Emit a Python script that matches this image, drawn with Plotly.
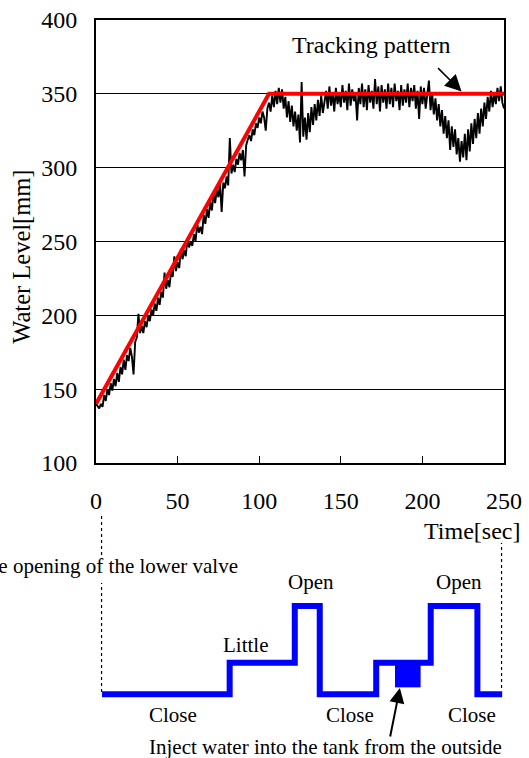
import plotly.graph_objects as go

# ---------------- data ----------------
time_sec = list(range(0, 251))
water_level = [
    140, 138, 137, 140, 138, 146, 142, 150, 146, 154,
    149, 157, 152, 161, 155, 165, 160, 170, 163, 173,
    169, 178, 172, 160, 182, 185, 201, 188, 193, 188,
    196, 192, 200, 196, 204, 200, 208, 203, 212, 207,
    216, 212, 229, 218, 224, 219, 230, 226, 240, 230,
    236, 232, 245, 238, 244, 240, 252, 246, 250, 247,
    255, 250, 262, 256, 260, 255, 268, 262, 272, 266,
    277, 271, 282, 276, 285, 280, 289, 270, 290, 286,
    294, 288, 320, 296, 302, 297, 306, 302, 310, 305,
    312, 294, 315, 319, 322, 318, 326, 322, 330, 327,
    334, 330, 338, 334, 325, 340, 344, 338, 349, 341,
    352, 343, 354, 344, 353, 340, 348, 334, 345, 331,
    342, 328, 338, 325, 336, 317, 358, 321, 334, 319,
    337, 324, 341, 329, 343, 332, 346, 335, 349, 337,
    344, 352, 340, 355, 342, 351, 338, 354, 343, 350,
    341, 356, 344, 352, 339, 357, 342, 353, 345, 350,
    332, 354, 343, 357, 341, 353, 339, 356, 344, 352,
    340, 360, 343, 355, 338, 356, 344, 353, 340, 357,
    343, 354, 341, 357, 345, 352, 339, 356, 342, 353,
    344, 357, 341, 354, 345, 356, 340, 352, 333, 355,
    343, 354, 340, 352, 359, 339, 350, 336, 347, 332,
    343, 328, 339, 323, 335, 320, 332, 312, 328, 314,
    326, 309, 320, 304, 318, 307, 323, 305, 326, 311,
    330, 316, 333, 320, 337, 323, 340, 328, 344, 333,
    348, 338, 352, 341, 350, 343, 354, 345, 355, 344,
    340,
]
pattern_time = [0, 106, 250]
pattern_level = [140, 350, 350]

y_ticks = [100, 150, 200, 250, 300, 350, 400]
x_ticks = [0, 50, 100, 150, 200, 250]

# valve schematic (Close = 0, Little = 1, Open = 2.8)
valve_time = [3.7, 81.9, 81.9, 121.8, 121.8, 137.1, 137.1, 171.7, 171.7,
              205.1, 205.1, 233.7, 233.7, 248.9]
valve_level = [0, 0, 1, 1, 2.8, 2.8, 0, 0, 1, 1, 2.8, 2.8, 0, 0]
inject_time = [183.2, 198.9]
inject_level = [0.22, 0.93]

FONT = "Liberation Serif"
TF = 24      # main chart text size
LF = 21      # schematic text size

fig = go.Figure()
fig.add_trace(go.Scatter(x=time_sec, y=water_level, mode="lines",
                         line=dict(color="black", width=1.9),
                         xaxis="x", yaxis="y", hoverinfo="skip"))
fig.add_trace(go.Scatter(x=pattern_time, y=pattern_level, mode="lines",
                         line=dict(color="#ff0000", width=4),
                         xaxis="x", yaxis="y"))
fig.add_trace(go.Scatter(x=valve_time, y=valve_level, mode="lines",
                         line=dict(color="#0000ff", width=6),
                         xaxis="x2", yaxis="y2"))
fig.add_trace(go.Scatter(
    x=[inject_time[0], inject_time[1], inject_time[1], inject_time[0], inject_time[0]],
    y=[inject_level[0], inject_level[0], inject_level[1], inject_level[1], inject_level[0]],
    mode="lines", fill="toself", fillcolor="#0000ff",
    line=dict(color="#0000ff", width=0), xaxis="x2", yaxis="y2"))

fig.update_layout(
    width=529, height=758,
    margin=dict(l=96, r=25, t=20, b=18),
    paper_bgcolor="white", plot_bgcolor="white",
    showlegend=False,
    font=dict(family=FONT, color="black", size=TF),
    xaxis=dict(domain=[0, 1], range=[0, 250], tickvals=x_ticks,
               ticks="inside", ticklen=7, tickwidth=1, tickcolor="black",
               showline=True, linecolor="black", linewidth=2, mirror=True,
               showgrid=False, zeroline=False, ticklabelstandoff=15,
               tickfont=dict(family=FONT, size=TF, color="black"),
               automargin=False, anchor="y"),
    yaxis=dict(domain=[(740 - 463) / 720, 1], range=[100, 400], tickvals=y_ticks,
               ticks="inside", ticklen=4, tickcolor="black",
               showline=True, linecolor="black", linewidth=2, mirror=True,
               showgrid=True, gridcolor="black", gridwidth=1, zeroline=False,
               ticklabelstandoff=12,
               tickfont=dict(family=FONT, size=TF, color="black"),
               automargin=False, anchor="x"),
    xaxis2=dict(domain=[0, 1], range=[0, 250], visible=False, anchor="y2"),
    yaxis2=dict(domain=[0, (740 - 505) / 720], range=[-1.451, 6.01],
                visible=False, anchor="x2"),
)

ann = []
ann.append(dict(text="Water Level[mm]", xref="paper", yref="paper",
                x=(22 - 96) / 408, y=(740 - 256.7) / 720, textangle=-90,
                showarrow=False, font=dict(size=24.5), xanchor="center", yanchor="middle"))
ann.append(dict(text="Time[sec]", xref="x", yref="paper", x=230.6,
                y=(740 - 530.5) / 720, showarrow=False, font=dict(size=TF),
                xanchor="center", yanchor="middle"))
ann.append(dict(text="Tracking pattern", xref="x", yref="y", x=168.5, y=382.8,
                showarrow=False, font=dict(size=TF), xanchor="center", yanchor="middle"))
ann.append(dict(text="", xref="x", yref="y", x=224, y=351.5, ax=-25, ay=-25,
                showarrow=True, arrowhead=2, arrowsize=2.2, arrowwidth=1.5,
                arrowcolor="black"))
# lower schematic labels
ann.append(dict(text="The opening of the lower valve", xref="x2", yref="y2",
                x=88.3, y=4.08, xanchor="right", yanchor="middle",
                showarrow=False, font=dict(size=LF)))
ann.append(dict(text="Little", xref="x2", yref="y2", x=92.2, y=1.55,
                showarrow=False, font=dict(size=LF)))
for xo in (131.7, 222.4):
    ann.append(dict(text="Open", xref="x2", yref="y2", x=xo, y=3.57,
                    showarrow=False, font=dict(size=LF)))
for xc in (47.1, 155.4, 230.3):
    ann.append(dict(text="Close", xref="x2", yref="y2", x=xc, y=-0.66,
                    showarrow=False, font=dict(size=LF)))
ann.append(dict(text="Inject water into the tank from the outside", xref="x2", yref="paper",
                x=140.5, y=(740 - 746.5) / 720, showarrow=False, font=dict(size=LF),
                yanchor="middle"))
ann.append(dict(text="", xref="x2", yref="y2", x=186.2, y=0.2, ax=-10, ay=50,
                showarrow=True, arrowhead=2, arrowsize=1.5, arrowwidth=2,
                arrowcolor="black"))
fig.update_layout(annotations=ann)

shapes = [
    dict(type="line", xref="x2", yref="y2", x0=3.4, x1=3.4, y0=4.42, y1=5.69,
         line=dict(color="black", width=1.2, dash="dot")),
    dict(type="line", xref="x2", yref="y2", x0=3.4, x1=3.4, y0=0.07, y1=3.53,
         line=dict(color="black", width=1.2, dash="dot")),
    dict(type="line", xref="x2", yref="y2", x0=248.5, x1=248.5, y0=0.2, y1=4.80,
         line=dict(color="black", width=1.2, dash="dot")),
]
fig.update_layout(shapes=shapes)

fig.write_html("out.html", config={"displayModeBar": False},
               post_script="document.body.style.margin='0';document.body.style.overflow='hidden';")
